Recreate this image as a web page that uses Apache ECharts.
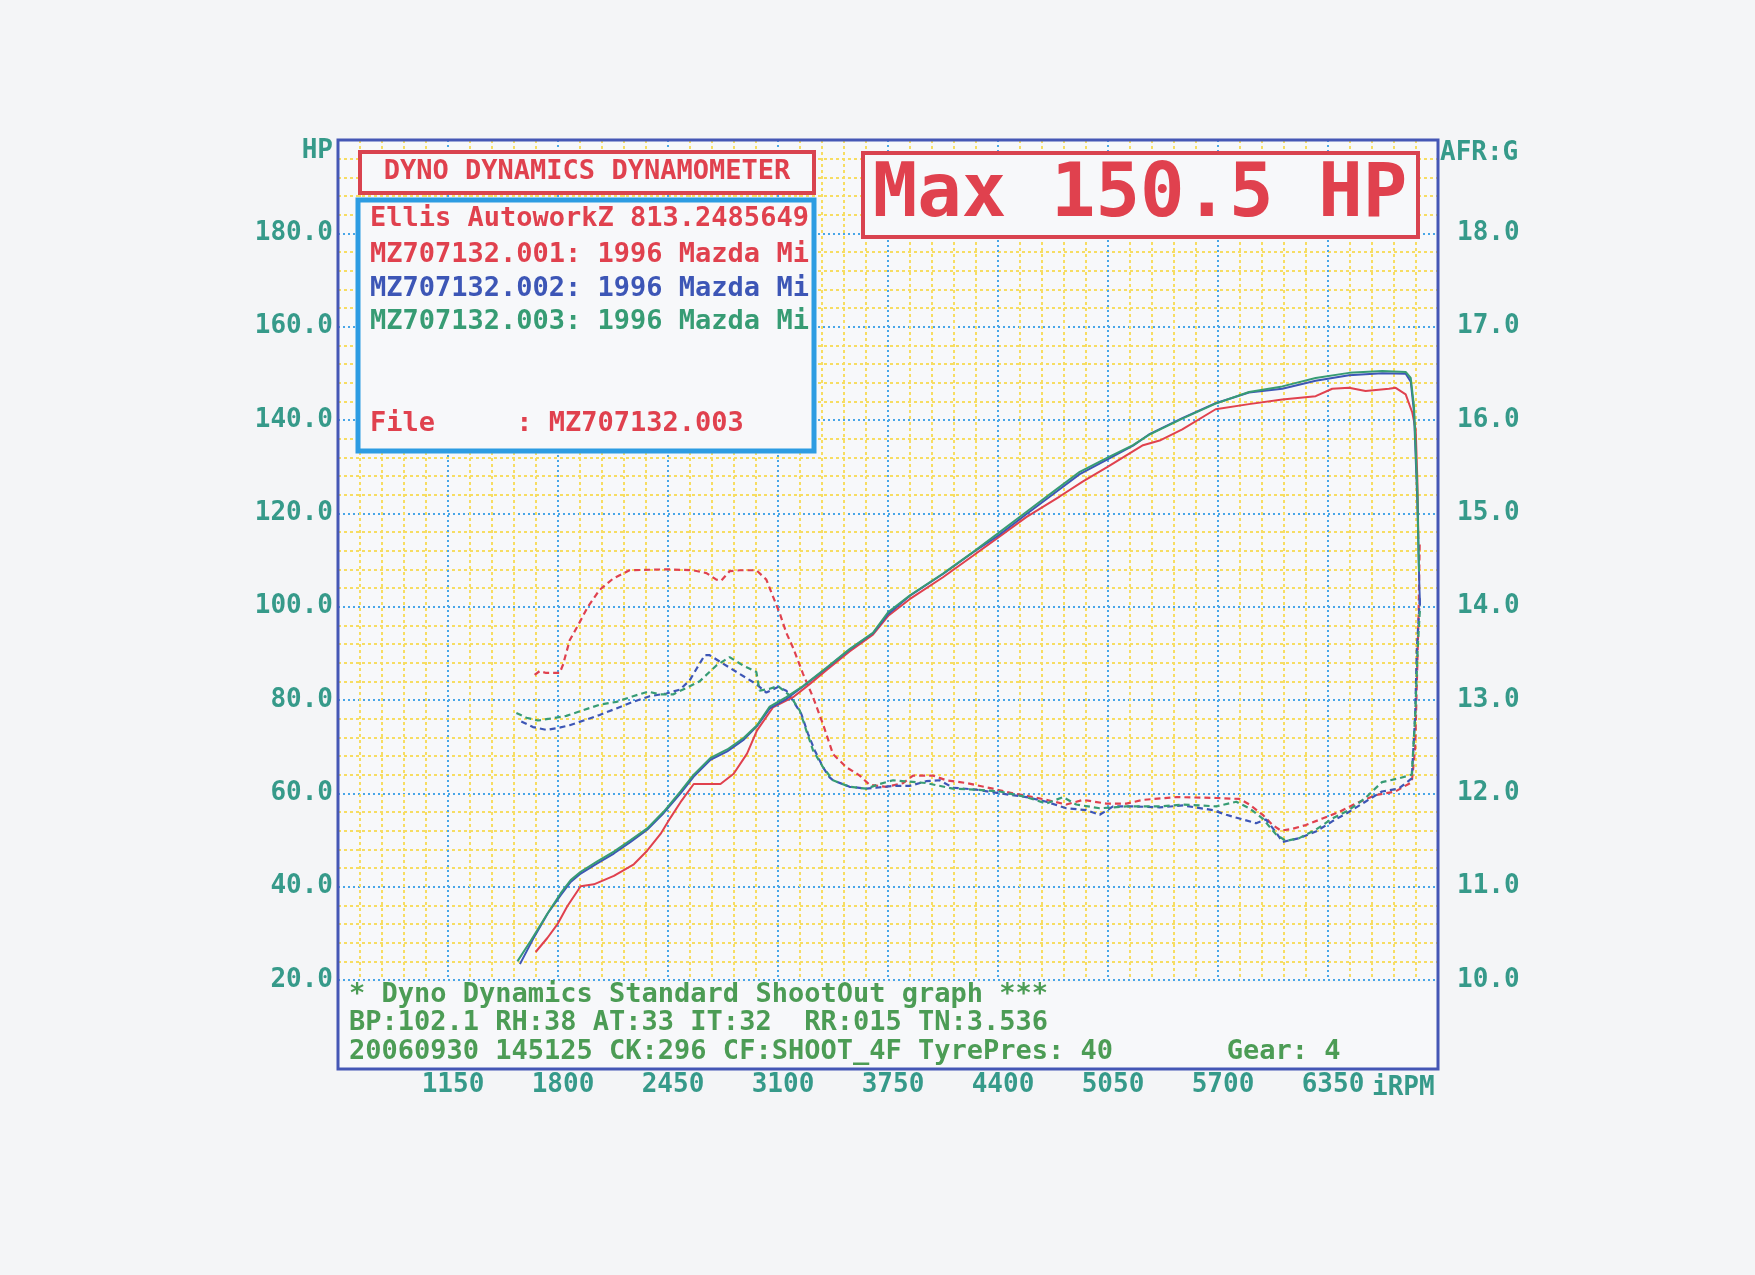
<!DOCTYPE html>
<html>
<head>
<meta charset="utf-8">
<title>Dyno Dynamics Dynamometer</title>
<script src="https://cdn.jsdelivr.net/npm/echarts@6/dist/echarts.min.js"></script>
<style>
html, body { margin: 0; padding: 0; background: #f4f5f7; }
#chart { width: 1755px; height: 1275px; }
</style>
</head>
<body>
<div id="chart"></div>
<script>
// axis ranges / ticks
var rpmMin = 500, rpmMax = 7000, rpmStep = 650
var hpMin = 20, hpMax = 200, hpStep = 20
var afrMin = 10, afrMax = 19, afrStep = 1

// power curves [rpm, HP]
var hp001 = [[1668,26.0],[1737,29.0],[1796,31.9],[1855,35.8],[1934,40.1],[2012,40.5],[2130,42.3],[2248,44.8],[2327,47.7],[2406,51.3],[2465,54.8],[2524,58.1],[2602,62.0],[2760,62.0],[2838,64.2],[2917,68.5],[2976,73.5],[3070,78.4],[3189,80.6],[3287,83.4],[3386,86.4],[3523,90.4],[3661,94.0],[3750,98.0],[3878,101.6],[4075,106.3],[4252,110.9],[4400,114.8],[4567,119.2],[4764,123.6],[4900,126.8],[5050,130.0],[5257,134.6],[5355,135.6],[5489,138.0],[5686,142.3],[5883,143.4],[6080,144.4],[6277,145.1],[6375,146.7],[6474,146.9],[6572,146.2],[6710,146.7],[6750,146.9],[6809,145.5],[6848,141.6],[6868,138.0],[6878,127.3],[6884,114.5]]
var hp002 = [[1575,23.4],[1650,28.6],[1740,34.3],[1816,38.2],[1875,41.0],[1934,42.8],[2032,45.0],[2130,47.1],[2229,49.6],[2327,52.2],[2425,55.8],[2524,60.0],[2602,63.6],[2701,67.2],[2800,69.0],[2898,71.5],[2976,74.4],[3051,78.2],[3149,80.2],[3248,82.9],[3386,86.8],[3523,90.8],[3661,94.3],[3750,98.4],[3878,102.3],[4075,107.0],[4252,111.6],[4400,115.2],[4567,119.8],[4725,124.1],[4883,128.4],[5050,131.6],[5198,134.5],[5292,136.9],[5489,140.4],[5686,143.6],[5883,145.9],[6080,146.7],[6277,148.4],[6474,149.6],[6671,150.0],[6809,149.9],[6839,148.2],[6858,141.8],[6878,122.5],[6890,104.0],[6894,100.2]]
var hp003 = [[1560,24.0],[1639,28.4],[1737,34.2],[1816,38.6],[1875,41.4],[1934,43.2],[2032,45.4],[2130,47.5],[2229,50.0],[2327,52.5],[2425,56.1],[2524,60.4],[2602,64.0],[2701,67.6],[2800,69.4],[2898,71.9],[2976,74.6],[3051,78.6],[3149,80.6],[3248,83.0],[3386,86.9],[3523,90.9],[3661,94.4],[3750,98.8],[3878,102.4],[4075,107.1],[4252,111.7],[4400,115.7],[4567,120.3],[4725,124.6],[4883,128.9],[5050,132.0],[5198,134.6],[5292,136.8],[5489,140.3],[5686,143.5],[5883,146.0],[6080,147.2],[6277,149.0],[6474,150.1],[6671,150.5],[6809,150.3],[6839,149.0],[6858,143.0],[6878,125.0],[6886,110.0],[6888,107.5]]

// air fuel ratio curves [rpm, AFR]
var afr001 = [[1662,13.27],[1692,13.31],[1730,13.29],[1810,13.29],[1830,13.38],[1869,13.64],[1918,13.80],[1977,14.0],[2046,14.18],[2125,14.30],[2223,14.39],[2440,14.40],[2598,14.39],[2677,14.36],[2736,14.29],[2765,14.28],[2814,14.38],[2874,14.39],[2972,14.39],[3031,14.29],[3070,14.11],[3110,13.93],[3149,13.72],[3189,13.56],[3248,13.28],[3307,13.03],[3366,12.74],[3425,12.42],[3504,12.28],[3583,12.19],[3642,12.09],[3740,12.07],[3839,12.11],[3898,12.19],[4016,12.19],[4095,12.14],[4213,12.11],[4370,12.05],[4489,12.00],[4607,11.96],[4686,11.93],[4804,11.88],[4902,11.93],[5040,11.89],[5158,11.89],[5257,11.93],[5455,11.96],[5690,11.95],[5827,11.94],[5886,11.88],[5964,11.77],[6023,11.66],[6072,11.60],[6140,11.62],[6219,11.66],[6317,11.73],[6415,11.80],[6513,11.89],[6630,11.98],[6748,12.02],[6845,12.12],[6865,12.48],[6875,13.19],[6885,13.90],[6892,14.70]]
var afr002 = [[1583,12.77],[1652,12.71],[1731,12.68],[1800,12.70],[1869,12.73],[1967,12.79],[2046,12.84],[2145,12.91],[2243,12.98],[2342,13.04],[2440,13.07],[2519,13.11],[2578,13.21],[2617,13.33],[2667,13.48],[2696,13.48],[2775,13.39],[2873,13.28],[2972,13.17],[3031,13.08],[3100,13.14],[3149,13.10],[3189,12.99],[3238,12.85],[3277,12.64],[3317,12.46],[3366,12.28],[3405,12.17],[3425,12.14],[3523,12.07],[3622,12.05],[3681,12.06],[3780,12.08],[3878,12.08],[3976,12.13],[4055,12.14],[4134,12.06],[4272,12.04],[4410,12.00],[4567,11.96],[4686,11.91],[4804,11.84],[4922,11.82],[5001,11.77],[5080,11.86],[5198,11.86],[5355,11.85],[5494,11.87],[5671,11.82],[5749,11.77],[5827,11.73],[5925,11.68],[5984,11.72],[6043,11.58],[6082,11.48],[6180,11.52],[6278,11.59],[6375,11.70],[6473,11.80],[6571,11.91],[6669,12.02],[6767,12.05],[6845,12.16],[6865,12.83],[6875,13.55],[6889,13.97],[6892,14.10]]
var afr003 = [[1554,12.86],[1613,12.81],[1682,12.78],[1751,12.80],[1849,12.83],[1948,12.89],[2046,12.95],[2145,12.98],[2243,13.04],[2332,13.09],[2401,13.06],[2480,13.06],[2558,13.13],[2637,13.20],[2736,13.37],[2814,13.46],[2893,13.37],[2972,13.30],[2991,13.10],[3051,13.12],[3100,13.15],[3169,13.05],[3228,12.89],[3268,12.67],[3307,12.46],[3366,12.28],[3425,12.14],[3523,12.07],[3622,12.05],[3700,12.10],[3780,12.14],[3976,12.11],[4134,12.05],[4272,12.04],[4410,12.02],[4567,11.96],[4686,11.89],[4784,11.96],[4863,11.88],[5001,11.84],[5158,11.86],[5355,11.86],[5494,11.88],[5690,11.86],[5808,11.91],[5886,11.84],[5964,11.73],[6043,11.56],[6101,11.49],[6180,11.52],[6278,11.61],[6375,11.73],[6473,11.82],[6571,11.95],[6669,12.12],[6767,12.16],[6845,12.20],[6865,12.83],[6880,13.55],[6894,14.00]]

// texts
var titleText = 'DYNO DYNAMICS DYNAMOMETER'
var maxText = 'Max 150.5 HP'
var infoLines = [
  'Ellis AutoworkZ 813.2485649',
  'MZ707132.001: 1996 Mazda Mi',
  'MZ707132.002: 1996 Mazda Mi',
  'MZ707132.003: 1996 Mazda Mi',
  'File     : MZ707132.003'
]
var footLines = [
  '* Dyno Dynamics Standard ShootOut graph ***',
  'BP:102.1 RH:38 AT:33 IT:32  RR:015 TN:3.536',
  '20060930 145125 CK:296 CF:SHOOT_4F TyrePres: 40       Gear: 4'
]

var RED = '#e0414e', BLUE = '#3d56b6', GREEN = '#379c74'
var TEAL = '#369a8a', FOOT = '#4c9c55'
var MONO = '"DejaVu Sans Mono", "Liberation Mono", monospace'
var PAPER = '#f7f8fa'

var chart = echarts.init(document.getElementById('chart'))

function txt(x, y, s, color, size, align) {
  return {
    type: 'text', x: x, y: y, z: 20,
    style: {
      text: s, fill: color, font: 'bold ' + size + 'px ' + MONO,
      textAlign: align || 'left', textVerticalAlign: 'middle'
    }
  }
}

var infoColors = [RED, RED, BLUE, GREEN, RED]
var infoY = [219, 255, 289, 322, 424]
var footY = [995, 1023, 1052]

var graphics = [
  // outer frame
  { type: 'rect', z: 15, shape: { x: 338, y: 140, width: 1100, height: 929 },
    style: { fill: null, stroke: '#4557b5', lineWidth: 3 } },
  // footer panel under the grid
  { type: 'rect', z: 5, shape: { x: 339, y: 982, width: 1098, height: 86 },
    style: { fill: PAPER } },
  // title box
  { type: 'rect', z: 15, shape: { x: 360, y: 152, width: 454, height: 41 },
    style: { fill: PAPER, stroke: '#d9434f', lineWidth: 4 } },
  txt(587, 172, titleText, RED, 27, 'center'),
  // info box
  { type: 'rect', z: 15, shape: { x: 358, y: 200, width: 456, height: 251 },
    style: { fill: PAPER, stroke: '#2d9ce2', lineWidth: 5 } },
  // max box
  { type: 'rect', z: 15, shape: { x: 863, y: 153, width: 555, height: 84 },
    style: { fill: PAPER, stroke: '#d9434f', lineWidth: 4 } },
  txt(1140, 197, maxText, RED, 74, 'center'),
  // axis captions
  txt(333, 151, 'HP', TEAL, 26, 'right'),
  txt(1440, 153, 'AFR:G', TEAL, 26, 'left'),
  txt(1372, 1088, 'iRPM', TEAL, 26, 'left')
]
infoLines.forEach(function (s, i) {
  graphics.push(txt(370, infoY[i], s, infoColors[i], 27))
})
footLines.forEach(function (s, i) {
  graphics.push(txt(349, footY[i], s, FOOT, 27))
})

function powerSeries(name, data, color) {
  return {
    name: name, type: 'line', data: data, yAxisIndex: 0,
    showSymbol: false, z: 3,
    lineStyle: { color: color, width: 2 }
  }
}
function afrSeries(name, data, color) {
  return {
    name: name, type: 'line', data: data, yAxisIndex: 1,
    showSymbol: false, z: 3,
    lineStyle: { color: color, width: 2.2, type: [6, 4] }
  }
}

var majorLine = { color: '#48a6e8', width: 2, type: [2, 3] }
var minorLine = { color: '#f7dd62', width: 2, type: [3, 3] }

var option = {
  backgroundColor: '#f4f5f7',
  animation: false,
  grid: { left: 338, right: 317, top: 140, bottom: 295, show: true, backgroundColor: PAPER, borderWidth: 0 },
  xAxis: {
    type: 'value', min: rpmMin, max: rpmMax, interval: rpmStep,
    axisLine: { show: false }, axisTick: { show: false },
    minorTick: { show: false, splitNumber: 5 },
    axisLabel: {
      color: TEAL, fontFamily: MONO, fontWeight: 'bold', fontSize: 26, margin: 92,
      padding: [0, 0, 0, 10],
      formatter: function (v) { return (v === rpmMin || v === rpmMax) ? '' : String(v) }
    },
    splitLine: { show: true, lineStyle: majorLine },
    minorSplitLine: { show: true, lineStyle: minorLine }
  },
  yAxis: [{
    type: 'value', min: hpMin, max: hpMax, interval: hpStep,
    axisLine: { show: false }, axisTick: { show: false },
    minorTick: { show: false, splitNumber: 5 },
    axisLabel: {
      color: TEAL, fontFamily: MONO, fontWeight: 'bold', fontSize: 26, margin: 5,
      formatter: function (v) { return v === hpMax ? '' : v.toFixed(1) }
    },
    splitLine: { show: true, lineStyle: majorLine },
    minorSplitLine: { show: true, lineStyle: minorLine }
  }, {
    type: 'value', min: afrMin, max: afrMax, interval: afrStep,
    axisLine: { show: false }, axisTick: { show: false },
    splitLine: { show: false },
    axisLabel: {
      color: TEAL, fontFamily: MONO, fontWeight: 'bold', fontSize: 26, margin: 19,
      formatter: function (v) { return v === afrMax ? '' : v.toFixed(1) }
    }
  }],
  series: [
    afrSeries('AFR 001', afr001, RED),
    afrSeries('AFR 002', afr002, BLUE),
    afrSeries('AFR 003', afr003, GREEN),
    powerSeries('HP 001', hp001, RED),
    powerSeries('HP 002', hp002, BLUE),
    powerSeries('HP 003', hp003, GREEN)
  ],
  graphic: graphics
}

chart.setOption(option)
</script>
</body>
</html>
